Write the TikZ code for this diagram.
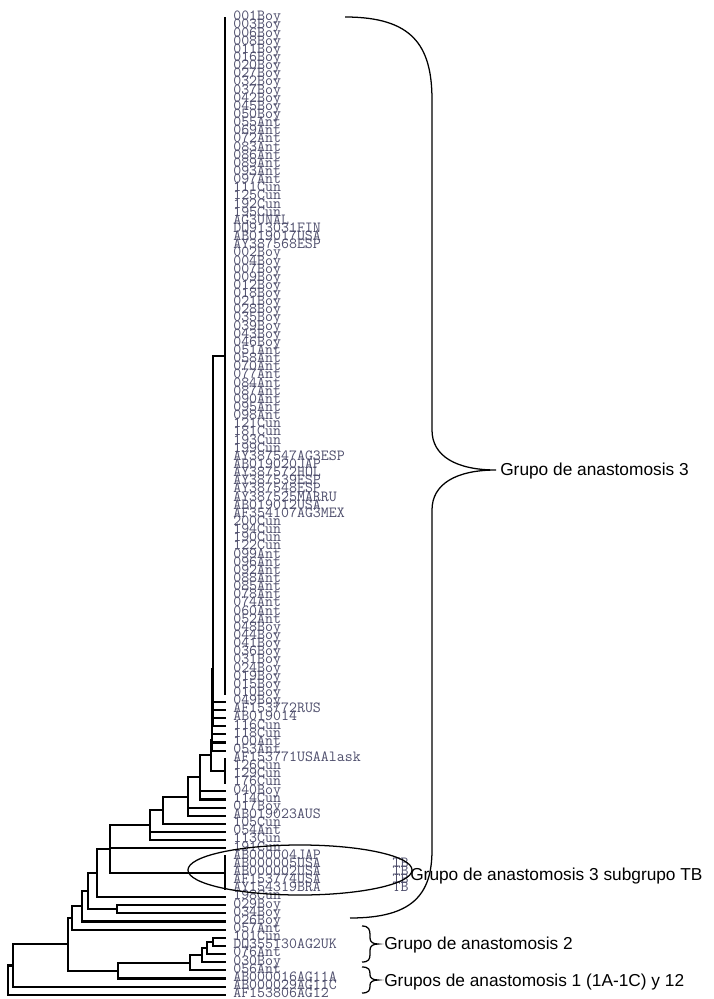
\documentclass[tikz,border=0pt]{standalone}
\usepackage{fontspec}
\usepackage{xcolor}
\usepackage{tikz}
\usetikzlibrary{calc}
\newfontfamily\grpfont{Liberation Sans}
\definecolor{leafgray}{HTML}{4E4E6C}

\tikzset{
  branch/.style={line width=1.5pt},
  leaf/.style={anchor=west, inner xsep=5pt, inner ysep=0pt, text height=4pt, text depth=0pt,
               font=\fontsize{11}{11}\selectfont\ttfamily, text=leafgray},
  grouplabel/.style={anchor=west, inner sep=0pt, font=\fontsize{12.3}{14}\selectfont\grpfont},
  braceline/.style={line width=0.9pt}
}

\begin{document}
\begin{tikzpicture}[x=0.025cm, y=-0.025cm]
    \useasboundingbox (0,0) rectangle (713,999);

    % isolates
    \foreach \lab [count=\i] in {001Boy,003Boy,006Boy,008Boy,011Boy,016Boy,020Boy,027Boy,032Boy,037Boy,
      042Boy,045Boy,050Boy,055Ant,069Ant,072Ant,083Ant,086Ant,089Ant,093Ant,097Ant,111Cun,125Cun,192Cun,
      195Cun,AG3UNAL,DQ913031FIN,AB019017USA,AY387568ESP,002Boy,004Boy,007Boy,009Boy,012Boy,018Boy,021Boy,
      028Boy,035Boy,039Boy,043Boy,046Boy,051Ant,058Ant,070Ant,077Ant,084Ant,087Ant,090Ant,095Ant,098Ant,
      121Cun,181Cun,193Cun,199Cun,AY387547AG3ESP,AB019020JAP,AY387572HOL,AY387539ESP,AY387548ESP,
      AY387525MARRU,AB019012USA,AF354107AG3MEX,200Cun,194Cun,190Cun,122Cun,099Ant,096Ant,092Ant,088Ant,
      085Ant,078Ant,074Ant,060Ant,052Ant,048Boy,044Boy,041Boy,036Boy,031Boy,024Boy,019Boy,015Boy,010Boy,
      049Boy,AF153772RUS,AB019014,116Cun,118Cun,100Ant,053Ant,AF153771USAAlask,126Cun,129Cun,176Cun,
      040Boy,114Cun,017Boy,AB019023AUS,105Cun,054Ant,113Cun,191Cun,AB000004JAP,
      AB000005USA~~~~~~~~~TB,AB000002USA~~~~~~~~~TB,AF153774USA~~~~~~~~~TB,AY154319BRA~~~~~~~~~TB,
      198Cun,029Boy,034Boy,026Boy,057Ant,101Cun,DQ355130AG2UK,076Ant,030Boy,056Ant,
      AB000016AG11A,AB000029AG11C,AF153806AG12}
      \node[leaf] (l\i) at (226, {18+(\i-1)*8.14}) {\lab};

    % internal nodes
    \coordinate (nA) at (225, 355.81);
    \coordinate (n1) at (213.4, 528.79);
    \coordinate (n2) at (213.1, 619.34);
    \coordinate (n3) at (212.8, 668.69);
    \coordinate (n4) at (212.5, 697.44);
    \coordinate (n5) at (212.2, 715.88);
    \coordinate (n6) at (211.9, 729.17);
    \coordinate (n7) at (211.6, 739.89);
    \coordinate (nQ) at (225, 770.95);
    \coordinate (n8) at (211.3, 755.42);
    \coordinate (nC) at (200, 777.43);
    \coordinate (nD) at (188, 796.58);
    \coordinate (nE) at (163, 810.22);
    \coordinate (nF) at (150, 825.18);
    \coordinate (nTB) at (225, 872.7);
    \coordinate (nG) at (110, 848.94);
    \coordinate (nH) at (97, 873.03);
    \coordinate (nJ) at (117, 909.33);
    \coordinate (nI) at (88, 891.18);
    \coordinate (nK) at (82, 906.36);
    \coordinate (nL) at (72, 918.02);
    \coordinate (nS1) at (213, 941.89);
    \coordinate (nS2) at (207, 948.0);
    \coordinate (nS3) at (202, 955.12);
    \coordinate (nS4) at (190, 962.75);
    \coordinate (nS5) at (118, 970.64);
    \coordinate (nM) at (68, 944.33);
    \coordinate (nR1) at (13, 965.5);
    \coordinate (nR) at (8, 980.15);

    % branches
    \foreach \i in {1,...,84} \draw[branch] (nA) |- (l\i.west);
    \draw[branch] (n1) |- (nA) (n1) |- (l85.west);
    \draw[branch] (n2) |- (n1) (n2) |- (l86.west);
    \draw[branch] (n3) |- (n2) (n3) |- (l87.west);
    \draw[branch] (n4) |- (n3) (n4) |- (l88.west);
    \draw[branch] (n5) |- (n4) (n5) |- (l89.west);
    \draw[branch] (n6) |- (n5) (n6) |- (l90.west);
    \draw[branch] (n7) |- (n6) (n7) |- (l91.west);
    \foreach \i in {92,...,95} \draw[branch] (nQ) |- (l\i.west);
    \draw[branch] (n8) |- (n7) (n8) |- (nQ);
    \draw[branch] (nC) |- (n8) (nC) |- (l96.west) (nC) |- (l97.west);
    \draw[branch] (nD) |- (nC) (nD) |- (l98.west) (nD) |- (l99.west);
    \draw[branch] (nE) |- (nD) (nE) |- (l100.west);
    \draw[branch] (nF) |- (nE) (nF) |- (l101.west) (nF) |- (l102.west);
    \foreach \i in {104,...,108} \draw[branch] (nTB) |- (l\i.west);
    \draw[branch] (nG) |- (nF) (nG) |- (l103.west) (nG) |- (nTB);
    \draw[branch] (nH) |- (nG) (nH) |- (l109.west);
    \draw[branch] (nJ) |- (l110.west) (nJ) |- (l111.west);
    \draw[branch] (nI) |- (nH) (nI) |- (nJ);
    \draw[branch] (nK) |- (nI) (nK) |- (l112.west);
    \draw[branch] (nL) |- (nK) (nL) |- (l113.west);
    \draw[branch] (nS1) |- (l114.west) (nS1) |- (l115.west);
    \draw[branch] (nS2) |- (nS1) (nS2) |- (l116.west);
    \draw[branch] (nS3) |- (nS2) (nS3) |- (l117.west);
    \draw[branch] (nS4) |- (nS3) (nS4) |- (l118.west);
    \draw[branch] (nS5) |- (nS4) (nS5) |- (l119.west);
    \draw[branch] (nM) |- (nL) (nM) |- (nS5);
    \draw[branch] (nR1) |- (nM) (nR1) |- (l120.west);
    \draw[branch] (nR) |- (nR1) (nR) |- (l121.west);

    % groups
    \node[grouplabel] (g3) at (500, 471) {Grupo de anastomosis 3};
    \node[grouplabel] (g3tb) at (410, 876) {Grupo de anastomosis 3 subgrupo TB};
    \node[grouplabel] (g2) at (384, 945) {Grupo de anastomosis 2};
    \node[grouplabel] (g1) at (384, 982) {Grupos de anastomosis 1 (1A-1C) y 12};

    \draw[braceline] (300, 870) ellipse [x radius=2.8cm, y radius=0.625cm];
    \draw[braceline] (345, 17) .. controls (412, 17) and (432, 45) .. (432, 100) -- (432, 430)
      .. controls (432, 456) and (456, 470) .. (496, 470)
      .. controls (456, 470) and (432, 484) .. (432, 510) -- (432, 850)
      .. controls (432, 895) and (412, 918) .. (350, 918);
    \draw[braceline] (362, 926) .. controls (369, 926) and (370, 930) .. (370, 935) -- (370, 938)
      .. controls (370, 942) and (373, 944) .. (378, 944)
      .. controls (373, 944) and (370, 946) .. (370, 950) -- (370, 954)
      .. controls (370, 959) and (369, 962) .. (362, 962);
    \draw[braceline] (362, 967) .. controls (369, 967) and (370, 970) .. (370, 974) -- (370, 975)
      .. controls (370, 978) and (373, 980) .. (378, 980)
      .. controls (373, 980) and (370, 982) .. (370, 985) -- (370, 986)
      .. controls (370, 990) and (369, 993) .. (362, 993);
\end{tikzpicture}
\end{document}
